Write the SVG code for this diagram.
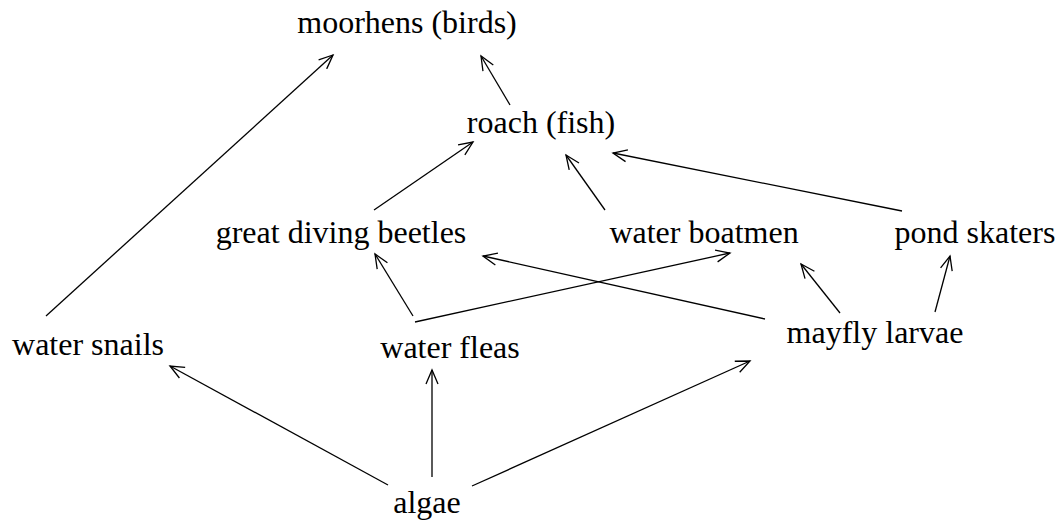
<svg xmlns="http://www.w3.org/2000/svg" width="1061" height="522" viewBox="0 0 1061 522">
<style>
text{font-family:"Liberation Serif","Times New Roman",serif;font-size:32px;fill:#000;text-anchor:middle}
.e{stroke:#000;stroke-width:1.3;fill:none;marker-end:url(#ah)}
</style>
<defs>
<marker id="ah" markerUnits="userSpaceOnUse" markerWidth="20" markerHeight="14" refX="18" refY="7" viewBox="0 0 20 14" orient="auto">
<path d="M4,1 L18,7 L4,13" fill="none" stroke="#000" stroke-width="1.3"/>
</marker>
</defs>
<rect width="1061" height="522" fill="#fff"/>
<g id="connectors">
<line class="e" x1="46" y1="316" x2="333" y2="55"/>
<line class="e" x1="510" y1="105" x2="481" y2="56"/>
<line class="e" x1="374" y1="210" x2="473" y2="142"/>
<line class="e" x1="605" y1="210" x2="566" y2="155"/>
<line class="e" x1="902" y1="211" x2="613" y2="153"/>
<line class="e" x1="413" y1="316" x2="375" y2="254"/>
<line class="e" x1="415" y1="322" x2="730" y2="253"/>
<line class="e" x1="765" y1="319" x2="483" y2="256"/>
<line class="e" x1="840" y1="313" x2="801" y2="264"/>
<line class="e" x1="935" y1="312" x2="950" y2="256"/>
<line class="e" x1="388" y1="485" x2="170" y2="366"/>
<line class="e" x1="432" y1="477" x2="432" y2="370"/>
<line class="e" x1="472" y1="486" x2="750" y2="361"/>
</g>
<g id="moorhens"><text x="407" y="33">moorhens (birds)</text></g>
<g id="roach"><text x="541" y="133">roach (fish)</text></g>
<g id="beetles"><text x="341" y="243">great diving beetles</text></g>
<g id="boatmen"><text x="704" y="243">water boatmen</text></g>
<g id="skaters"><text x="975" y="243">pond skaters</text></g>
<g id="snails"><text x="88" y="355">water snails</text></g>
<g id="fleas"><text x="450" y="358">water fleas</text></g>
<g id="mayfly"><text x="875" y="343">mayfly larvae</text></g>
<g id="algae"><text x="427" y="513">algae</text></g>
</svg>
